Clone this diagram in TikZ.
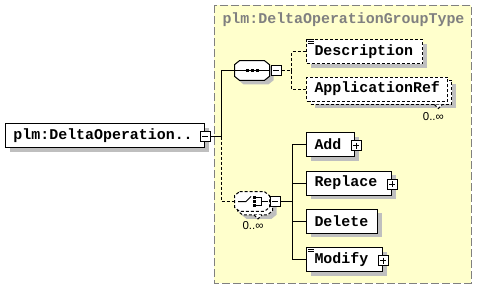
\documentclass[tikz,border=0pt]{standalone}
\usepackage{fontspec}
\usetikzlibrary{shadows,positioning}
\newfontfamily\xmlmono{Liberation Mono}
\newfontfamily\xmlsans{Liberation Sans}
\newcommand{\elemfont}{\xmlmono\bfseries\fontsize{11.2}{13}\selectfont}
\newcommand{\occfont}{\xmlsans\fontsize{8.6}{10}\selectfont}
\definecolor{grpyellow}{RGB}{255,255,204}
% octagon of a compositor node, shifted by #3,#4
\newcommand{\compoutline}[4][]{%
  \path[#1] ([xshift=#3+3.75pt,yshift=#4]#2.north west) -- ([xshift=#3-3.75pt,yshift=#4]#2.north east)
    -- ([xshift=#3,yshift=#4-3pt]#2.north east) -- ([xshift=#3,yshift=#4+3pt]#2.south east)
    -- ([xshift=#3-3.75pt,yshift=#4]#2.south east) -- ([xshift=#3+3.75pt,yshift=#4]#2.south west)
    -- ([xshift=#3,yshift=#4+3pt]#2.south west) -- ([xshift=#3,yshift=#4-3pt]#2.north west) -- cycle;}

\begin{document}
\begin{tikzpicture}[x=0.75pt,y=-0.75pt,line width=0.75pt,
  boxshadow/.style={drop shadow={shadow xshift=3pt,shadow yshift=-3pt,fill=black!25,opacity=1}},
  elem/.style={draw,fill=white,anchor=west,minimum height=18pt,inner xsep=6pt,inner ysep=0pt,text width=#1,align=left,font=\elemfont},
  opt/.style={dash pattern=on 2.25pt off 1.5pt},
  comp/.style={minimum width=25.5pt,minimum height=14pt,inner sep=0pt},
  pmbox/.style={draw,fill=white,solid,minimum size=7.5pt,inner sep=0pt},
  collapse/.style={pmbox,path picture={\draw ([xshift=1.5pt]path picture bounding box.west) -- ([xshift=-1.5pt]path picture bounding box.east);}},
  expand/.style={pmbox,path picture={\draw ([xshift=1.5pt]path picture bounding box.west) -- ([xshift=-1.5pt]path picture bounding box.east) ([yshift=-1.5pt]path picture bounding box.north) -- ([yshift=1.5pt]path picture bounding box.south);}},
  occ/.style={font=\occfont,inner sep=0pt}]
\useasboundingbox (0,0) rectangle (477,289);

% group frame
\draw[gray,fill=grpyellow,dash pattern=on 6pt off 2.25pt] (214,5) rectangle (471,283);
\node[font=\elemfont,text=gray,anchor=west,inner sep=0pt] (grptitle) at (222,20) {plm:DeltaOperationGroupType};

% root element
\node[elem=137.25pt,boxshadow] (root) at (5,135.5) {plm:DeltaOperation..};
\node[collapse] (rootpm) at ([yshift=-0.75pt]root.east) {};

% sequence
\node[comp] (seq) at (252,70.5) {};
\compoutline[fill=black!25]{seq}{3pt}{-3pt}
\compoutline[draw,fill=white]{seq}{0pt}{0pt}
\node[collapse,right=0.75pt of seq] (seqpm) {};
\draw (seq.west) -- (seq.east);
\foreach \dx in {-5,0,5}
  \fill ([xshift=\dx*0.75pt]seq.center) +(-1.5,-1.5) rectangle +(1.5,1.5);

\node[elem=75pt,opt,boxshadow] (desc) at (306,51.5) {Description};
\node[draw,opt,fill=white,boxshadow,anchor=west,minimum width=105.75pt,minimum height=18pt,inner sep=0pt] (apprefback) at (310,92) {};
\coordinate (apprefnotch) at ([xshift=43pt]apprefback.south);
\filldraw[opt,fill=white] ([xshift=-3pt]apprefnotch) -- ([yshift=-3pt]apprefnotch) -- ([xshift=3pt]apprefnotch);
\node[elem=93.75pt,opt] (appref) at (306,89) {ApplicationRef};
\node[occ] (apprefocc) at ([shift={(-5,12)}]apprefnotch) {0..∞};

% choice
\node[comp] (choiceback) at (255,205) {};
\compoutline[fill=black!25]{choiceback}{3pt}{-3pt}
\compoutline[draw,opt,fill=white]{choiceback}{0pt}{0pt}
\coordinate (choicenotch) at ([xshift=2.25pt]choiceback.south);
\filldraw[opt,fill=white] ([xshift=-3pt]choicenotch) -- ([yshift=-3pt]choicenotch) -- ([xshift=3pt]choicenotch);
\node[comp] (choice) at (252,201.5) {};
\compoutline[draw,opt,fill=white]{choice}{0pt}{0pt}
\node[collapse,right=0pt of choice] (choicepm) {};
\node[occ] (choiceocc) at ([shift={(-2,11)}]choiceback.south) {0..∞};
\begin{scope}[shift={(choice.center)}]
\draw (-14,0) -- (-6,0) -- (-1,-5);
\foreach \dy in {-4,0,4}
  \fill (2,\dy) +(-1.5,-1.5) rectangle +(1.5,1.5);
\draw (3.5,-4) -- (9,-4) -- (9,4) -- (3.5,4) (9,0) -- (16,0);
\end{scope}

\node[elem=24pt,boxshadow] (add) at (306,144.5) {Add};
\node[expand] (addpm) at ([shift={(1,1)}]add.east) {};
\node[elem=51.75pt,boxshadow] (replace) at (306,183) {Replace};
\node[expand] (replacepm) at ([shift={(0,1)}]replace.east) {};
\node[elem=41.25pt,boxshadow] (delete) at (306,221) {Delete};
\node[elem=45pt,boxshadow] (modify) at (306,259.5) {Modify};
\node[expand] (modifypm) at ([shift={(0,1)}]modify.east) {};

% annotation marks
\foreach \n in {desc,modify}
  \foreach \i in {0,1,2}
    \draw[solid] ([shift={(2,2*\i)}]\n.north west) -- ++(6,0);

% connectors
\draw (rootpm.east) -- ++(11,0) coordinate (rootfork) |- (seq.west);
\draw[opt] (rootfork) |- (choice.west);
\draw[opt] (seqpm.east) -- ++(10,0) coordinate (seqfork) |- (desc.west);
\draw[opt] (seqfork) |- (appref.west);
\draw (choicepm.east) -- ++(12,0) coordinate (choicefork) |- (add.west);
\foreach \n in {replace,delete,modify}
  \draw (choicefork) |- (\n.west);
\end{tikzpicture}
\end{document}
